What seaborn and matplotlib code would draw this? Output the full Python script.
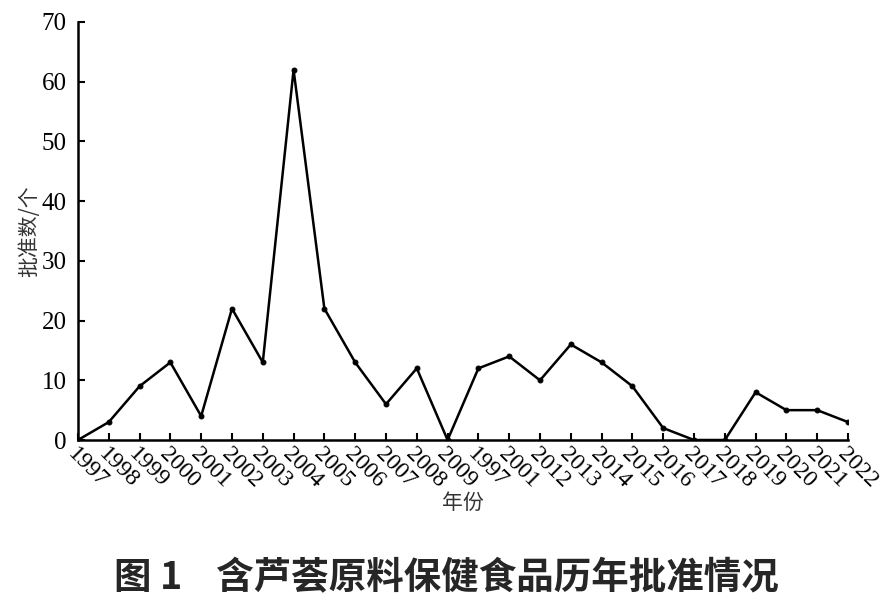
import matplotlib
matplotlib.use("Agg")
import matplotlib.pyplot as plt
import seaborn as sns

# data
year_labels = ["1997", "1998", "1999", "2000", "2001", "2002", "2003", "2004",
               "2005", "2006", "2007", "2008", "2009", "1997", "2001", "2012",
               "2013", "2014", "2015", "2016", "2017", "2018", "2019", "2020",
               "2021", "2022"]
counts = [0, 3, 9, 13, 4, 22, 13, 62, 22, 13, 6, 12, 0, 12, 14, 10, 16, 13,
          9, 2, 0, 0, 8, 5, 5, 3]
pos = list(range(len(year_labels)))

sns.set_style("ticks")
cjk = ["Noto Sans CJK SC", "DejaVu Sans"]
serif = ["Liberation Serif", "DejaVu Serif"]

fig = plt.figure(figsize=(8.92, 6.09), dpi=100)
ax = fig.add_axes([0.0874, 0.2775, 0.8633, 0.6864])

sns.lineplot(x=pos, y=counts, ax=ax, color="black", linewidth=1.8,
             marker="o", markersize=3.5, markeredgecolor="black")

ax.set_xlim(0, len(pos) - 1)
ax.set_ylim(0, 70)
ax.set_yticks(range(0, 71, 10))
ax.set_xticks(pos)
ax.set_xticklabels(year_labels, rotation=-45, ha="left", va="top",
                   rotation_mode="anchor", family=serif, fontsize=17)
for t in ax.get_yticklabels():
    t.set_family(serif)
    t.set_fontsize(18)

ax.tick_params(axis="both", direction="in", length=5, width=1.5, colors="black")
ax.tick_params(axis="x", pad=3)
ax.tick_params(axis="y", pad=8)
for s in ["top", "right"]:
    ax.spines[s].set_visible(False)
for s in ["left", "bottom"]:
    ax.spines[s].set_linewidth(1.8)
    ax.spines[s].set_color("black")

ax.set_xlabel("年份", family=cjk, fontsize=15, color="#333333", labelpad=0)
ax.set_ylabel("批准数/个", family=cjk, fontsize=15, color="#333333", labelpad=1)

fig.text(0.5, 0.052, "图 1    含芦荟原料保健食品历年批准情况", ha="center",
         va="center", family=cjk, fontsize=27, fontweight="bold")

fig.savefig("out.png", dpi=100)
